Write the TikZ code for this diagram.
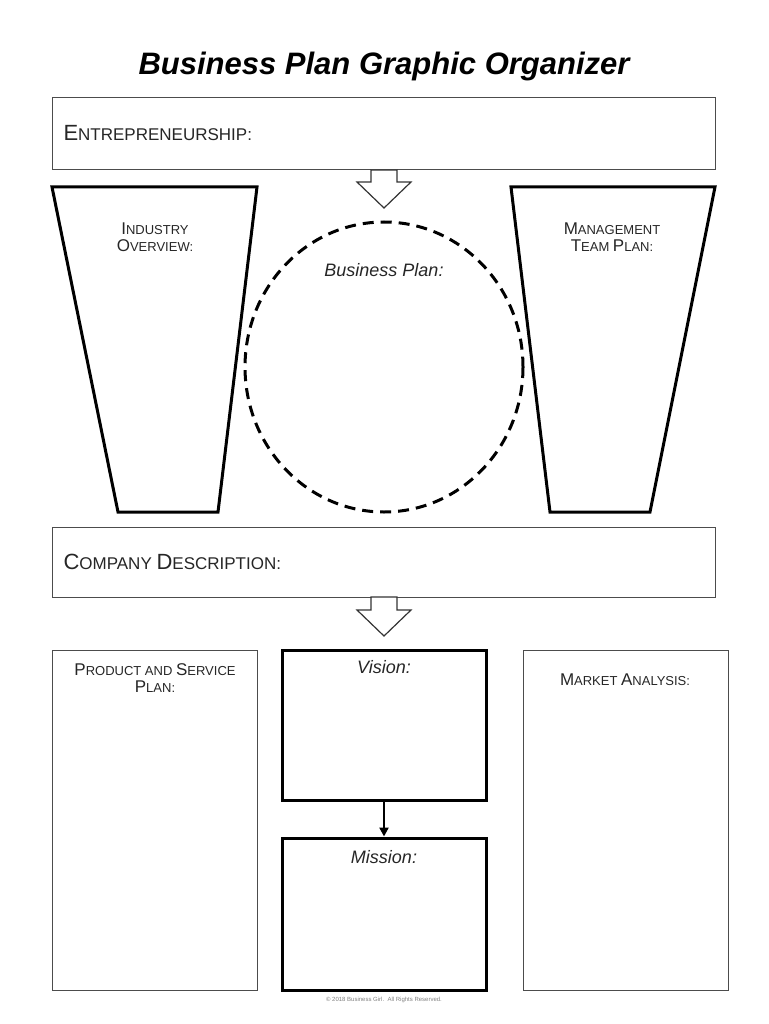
\documentclass[tikz,border=0pt]{standalone}
\usepackage{fontspec}
\setmainfont{Liberation Sans}
\usetikzlibrary{shapes.geometric,arrows.meta}
\newcommand{\Bg}[1]{{\fontsize{22}{24}\selectfont #1}}
\newcommand{\Bs}[1]{{\fontsize{17}{19}\selectfont #1}}
\begin{document}
\begin{tikzpicture}[x=1pt,y=-1pt,
  thinbox/.style={draw=black!70,line width=1pt},
  thickbox/.style={draw=black,line width=3pt},
  lbl/.style={font=\fontsize{13}{17}\selectfont,align=center,text=black!85},
  big/.style={font=\fontsize{17}{20}\selectfont,text=black!85},
  hand/.style={font=\itshape\fontsize{18}{20}\selectfont,text=black!85},
  hollowarrow/.style={draw=black!80,line width=1.2pt,fill=white}]
\useasboundingbox (0,0) rectangle (768,1024);
\node[font=\bfseries\itshape\fontsize{31}{34}\selectfont] (title) at (384,66) {Business Plan Graphic Organizer};
% Entrepreneurship
\draw[thinbox] (52,98) rectangle (715,170);
\node[big,anchor=west] (ent) at (60,133) {\Bg{E}NTREPRENEURSHIP:};
\draw[hollowarrow] (371,170) -- (397,170) -- (397,182) -- (411,182) -- (384,208) -- (357,182) -- (371,182) -- cycle;
% trapezoids
\draw[thickbox] (52,187) -- (257,187) -- (218,512) -- (118,512) -- cycle;
\node[lbl] (ind) at (155,237) {\Bs{I}NDUSTRY\\\Bs{O}VERVIEW:};
\draw[thickbox] (511,187) -- (715,187) -- (650,512) -- (550,512) -- cycle;
\node[lbl] (man) at (612,237) {\Bs{M}ANAGEMENT\\\Bs{T}EAM \Bs{P}LAN:};
% circle
\draw[line width=3pt,dash pattern=on 11pt off 7pt] (384,367) ellipse [x radius=139, y radius=145];
\node[hand] (bp) at (384,270) {Business Plan:};
% Company description
\draw[thinbox] (52,527) rectangle (715,597);
\node[big,anchor=west] (cd) at (60,562) {\Bg{C}OMPANY \Bg{D}ESCRIPTION:};
\draw[hollowarrow] (371,597) -- (397,597) -- (397,610) -- (411,610) -- (384,636) -- (357,610) -- (371,610) -- cycle;
% bottom
\draw[thinbox] (52,650) rectangle (257,990);
\node[lbl] (ps) at (155,678) {\Bs{P}RODUCT AND \Bs{S}ERVICE\\\Bs{P}LAN:};
\node[thickbox,minimum width=204pt,minimum height=150pt,inner sep=0pt] (vis) at (384,725) {};
\node[hand] at (384,667) {Vision:};
\node[thickbox,minimum width=204pt,minimum height=152pt,inner sep=0pt] (mis) at (384,914) {};
\node[hand] at (384,857) {Mission:};
\draw[line width=2.5pt,-{Triangle[length=9pt,width=9pt]}] (vis.south) -- (mis.north);
\draw[thinbox] (523,650) rectangle (728,990);
\node[lbl] (ma) at (625,680) {\Bs{M}ARKET \Bs{A}NALYSIS:};
\node[font=\fontsize{6}{7}\selectfont,text=black!50] (foot) at (384,1000) {© 2018 Business Girl.\ \ All Rights Reserved.};
\end{tikzpicture}
\end{document}
